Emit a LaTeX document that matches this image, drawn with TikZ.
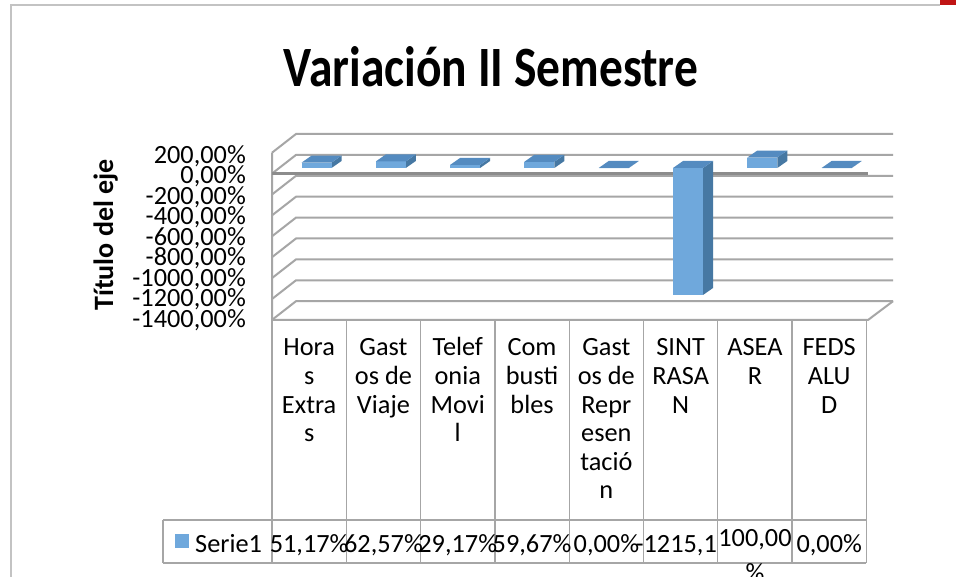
\documentclass[tikz,border=0pt]{standalone}
\usepackage{fontspec}
\setmainfont{Carlito}
\usetikzlibrary{positioning}
\definecolor{barfront}{RGB}{111,168,220}
\definecolor{bartop}{RGB}{84,139,192}
\definecolor{barside}{RGB}{70,120,163}
\definecolor{gridgray}{RGB}{166,166,166}
\definecolor{zerogray}{RGB}{140,140,140}
\definecolor{framegray}{RGB}{195,195,195}
\definecolor{winred}{RGB}{192,20,20}
\newcommand{\chartfont}{\fontsize{26.3}{28.6}\selectfont}
\tikzset{
  gridline/.style={draw=gridgray, line width=2pt},
  tableline/.style={draw=gridgray, line width=1.3pt},
  ticklabel/.style={font=\chartfont, anchor=base east, inner sep=0pt},
  catlabel/.style={font=\chartfont, align=center, anchor=north, inner sep=0pt},
  vallabel/.style={font=\chartfont, anchor=base, inner sep=0pt}
}
% one 3d column: left x, top y, bottom y of the front face
\newcommand{\colbar}[3]{%
  \fill[barside] ({#1+30},#2) -- ({#1+40},{#2-7}) -- ({#1+40},{#3-7}) -- ({#1+30},#3) -- cycle;
  \fill[barfront] (#1,#2) rectangle ({#1+30},#3);
  \fill[bartop] (#1,#2) -- ({#1+10},{#2-7}) -- ({#1+40},{#2-7}) -- ({#1+30},#2) -- cycle;
}

\begin{document}
\begin{tikzpicture}[x=1pt, y=-1pt]
	\useasboundingbox (0,0) rectangle (956,577);
	\fill[white] (0,0) rectangle (956,577);
	
	% frame
	\draw[framegray, line width=2pt] (11,577) -- (11,5) -- (940,5);
	\fill[winred] (940,0) rectangle (956,5);
	
	\node[font=\bfseries\fontsize{47.5}{50}\selectfont, anchor=base] (title) at (491,87) {\scalebox{1}[1.2]{Variación II Semestre}};
	\node[font=\bfseries\fontsize{28}{30}\selectfont, rotate=90, anchor=base] (ytitle) at (113,235) {Título del eje};
	
	% walls and grid
	\foreach \k in {0,...,8}
		\draw[gridline] (272,{152.7+20.9*\k}) -- (296,{134+20.9*\k}) -- (893,{134+20.9*\k});
	\draw[gridline] (272,152.7) -- (272,320) -- (868,320) -- (893,301.2);
	\draw[zerogray, line width=3pt] (272,173.6) -- (868,173.6);
	
	\foreach \v [count=\k from 0] in {200,0,-200,-400,-600,-800,-1000,-1200,-1400}
		\node[ticklabel] (tick\k) at (246,{163.3+20.5*\k}) {\v,00\%};
	
	% columns
	\colbar{301.5}{162.65}{168}
	\colbar{375.8}{161.46}{168}
	\colbar{450.1}{164.95}{168}
	\colbar{524.4}{161.76}{168}
	\colbar{598.7}{168}{168}
	\colbar{673.0}{168}{295}
	\colbar{747.3}{157.55}{168}
	\colbar{821.6}{168}{168}
	
	% data table
	\foreach \i in {0,...,8}
		\draw[tableline] ({272+74.3*\i},320) -- ({272+74.3*\i},563);
	\draw[tableline] (163,520) -- (866.4,520);
	\draw[tableline] (163,563) -- (866.4,563);
	\draw[tableline] (163,520) -- (163,563);
	
	\node[catlabel] (c0) at (309.15,335.7) {\strut Hora\\s\\Extra\\s};
	\node[catlabel] (c1) at (383.45,335.7) {\strut Gast\\os de\\Viaje};
	\node[catlabel] (c2) at (457.75,335.7) {\strut Telef\\onia\\Movi\\l};
	\node[catlabel] (c3) at (532.05,335.7) {\strut Com\\busti\\bles};
	\node[catlabel] (c4) at (606.35,335.7) {\strut Gast\\os de\\Repr\\esen\\tació\\n};
	\node[catlabel] (c5) at (680.65,335.7) {\strut SINT\\RASA\\N};
	\node[catlabel] (c6) at (754.95,335.7) {\strut ASEA\\R};
	\node[catlabel] (c7) at (829.25,335.7) {\strut FEDS\\ALU\\D};
	
	\fill[barfront] (175,534) rectangle (189,548);
	\node[vallabel, anchor=base west] (serie) at (195,552) {Serie1};
	\node[vallabel] (v0) at (309.15,552) {51,17\%};
	\node[vallabel] (v1) at (383.45,552) {62,57\%};
	\node[vallabel] (v2) at (457.75,552) {29,17\%};
	\node[vallabel] (v3) at (532.05,552) {59,67\%};
	\node[vallabel] (v4) at (606.35,552) {0,00\%};
	\node[vallabel, anchor=base east] (v5) at (717,552) {-1215,1};
	\node[vallabel] (v6) at (754.95,546) {100,00};
	\node[vallabel] (v6b) at (754.95,581) {\%};
	\node[vallabel] (v7) at (829.25,552) {0,00\%};
  \end{tikzpicture}
\end{document}
